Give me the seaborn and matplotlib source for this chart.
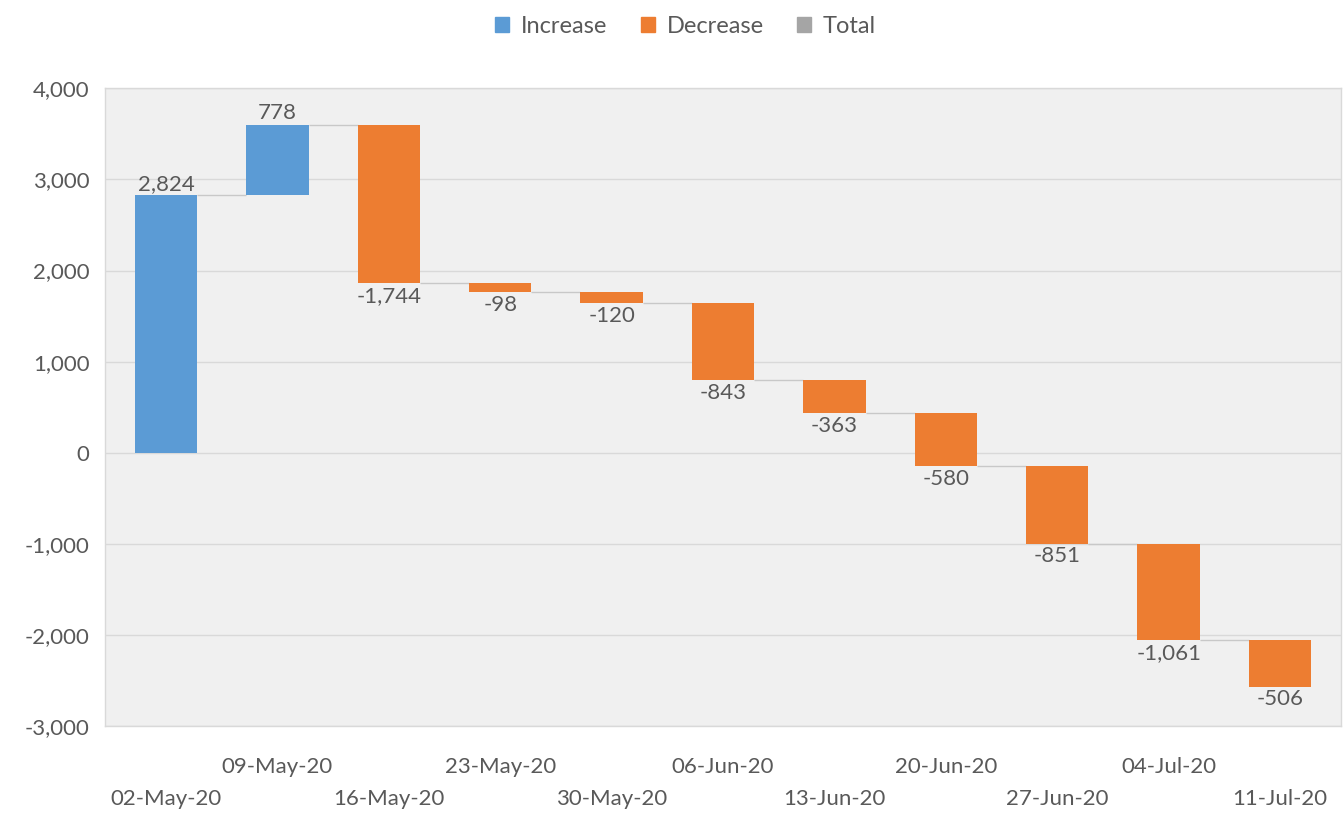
import numpy as np
import pandas as pd
import matplotlib
matplotlib.use("Agg")
import matplotlib.pyplot as plt
from matplotlib.patches import Patch
import seaborn as sns

# weekly change values
dates = ["02-May-20", "09-May-20", "16-May-20", "23-May-20", "30-May-20",
         "06-Jun-20", "13-Jun-20", "20-Jun-20", "27-Jun-20", "04-Jul-20", "11-Jul-20"]
changes = [2824, 778, -1744, -98, -120, -843, -363, -580, -851, -1061, -506]

blue = "#5B9BD5"
orange = "#ED7D31"
gray = "#A5A5A5"
txt = "#595959"

ends = np.cumsum(changes)
starts = ends - np.array(changes)
df = pd.DataFrame({"date": dates, "change": changes, "start": starts, "end": ends})

sns.set_theme(style="white")
plt.rcParams["font.family"] = ["Lato", "DejaVu Sans"]

fig = plt.figure(figsize=(13.44, 8.17), dpi=100)
ax = fig.add_axes([0.078, 0.111, 0.92, 0.781])
ax.set_facecolor("#f0f0f0")

bw = 0.56
sns.barplot(data=df, x="date", y="change", bottom=df["start"], width=bw,
            color=blue, ax=ax, zorder=3)
for p, v in zip(ax.patches, changes):
    p.set_facecolor(blue if v > 0 else orange)
    p.set_edgecolor("none")

# connector lines
for i in range(len(dates) - 1):
    ax.hlines(ends[i], i + bw / 2, i + 1 - bw / 2, color="#c8c8c8", lw=1, zorder=2)

# value labels
fs = 16
for i, v in enumerate(changes):
    if v > 0:
        ax.text(i, ends[i] + 20, f"{v:,}", ha="center", va="bottom", fontsize=fs, color=txt)
    else:
        ax.text(i, ends[i] - 30, f"{v:,}", ha="center", va="top", fontsize=fs, color=txt)

ax.set_ylim(-3000, 4000)
ax.set_xlim(-0.55, len(dates) - 0.45)
yt = np.arange(-3000, 4001, 1000)
ax.set_yticks(yt)
ax.set_yticklabels([f"{t:,}" for t in yt])
ax.yaxis.grid(True, color="#d9d9d9", lw=1)
ax.set_axisbelow(True)

labels = [d if i % 2 else "\n" + d for i, d in enumerate(dates)]
ax.set_xticks(range(len(dates)))
ax.set_xticklabels(labels, linespacing=1.75)
ax.tick_params(axis="x", length=0, pad=22, labelsize=fs, labelcolor=txt)
ax.tick_params(axis="y", length=0, pad=11, labelsize=fs, labelcolor=txt)
ax.set_xlabel("")
ax.set_ylabel("")
for s in ax.spines.values():
    s.set_color("#d9d9d9")
    s.set_linewidth(1)

handles = [Patch(color=blue, label="Increase"), Patch(color=orange, label="Decrease"),
           Patch(color=gray, label="Total")]
fig.legend(handles=handles, loc="center", bbox_to_anchor=(0.51, 0.968), ncol=3,
           frameon=False, fontsize=17, handlelength=0.6, handleheight=0.6,
           handletextpad=0.5, columnspacing=1.4, labelcolor=txt)

fig.savefig("out.png", dpi=100)
